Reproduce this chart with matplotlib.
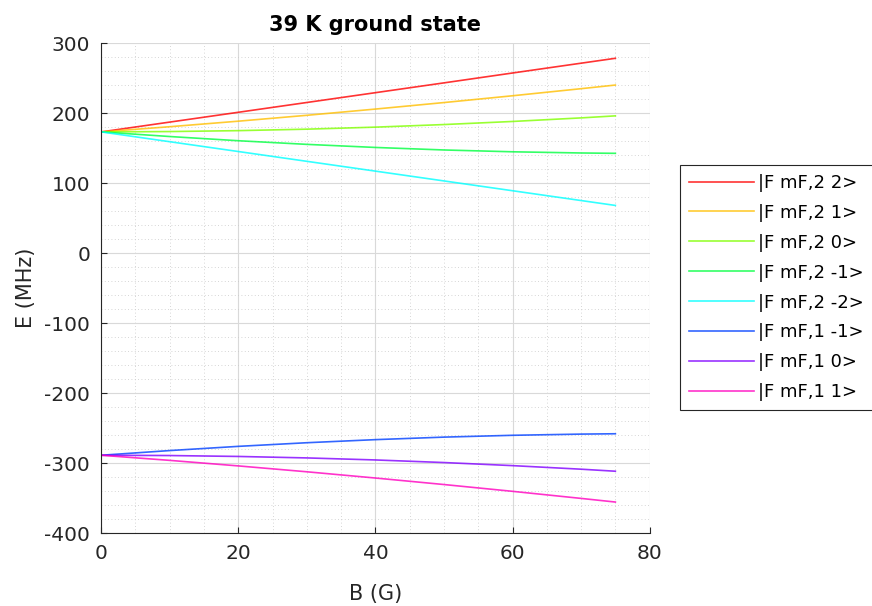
import matplotlib.pyplot as plt
from matplotlib.ticker import MultipleLocator

plt.rcParams['font.family'] = ['DejaVu Sans']
plt.rcParams['axes.unicode_minus'] = False

# field values (G) and energies (MHz)
B = [0, 10, 20, 30, 40, 50, 60, 70, 75]

E_2_2 = [173.1, 187.1, 201.1, 215.1, 229.1, 243.1, 257.2, 271.2, 278.2]
E_2_1 = [173.1, 180.5, 188.4, 196.8, 205.7, 215.0, 224.7, 234.8, 240.0]
E_2_0 = [173.1, 173.6, 174.9, 177.0, 179.9, 183.6, 188.0, 193.1, 196.0]
E_2_m1 = [173.1, 166.5, 160.5, 155.3, 150.9, 147.3, 144.7, 143.0, 142.5]
E_2_m2 = [173.1, 159.1, 145.1, 131.1, 117.1, 103.1, 89.1, 75.1, 68.1]
E_1_m1 = [-288.6, -281.9, -275.9, -270.7, -266.3, -262.7, -260.1, -258.4, -257.9]
E_1_0 = [-288.6, -289.0, -290.3, -292.4, -295.3, -299.0, -303.4, -308.5, -311.4]
E_1_1 = [-288.6, -295.9, -303.8, -312.2, -321.1, -330.4, -340.1, -350.2, -355.4]

series = [E_2_2, E_2_1, E_2_0, E_2_m1, E_2_m2, E_1_m1, E_1_0, E_1_1]
labels = ['|F mF,2 2>', '|F mF,2 1>', '|F mF,2 0>', '|F mF,2 -1>',
          '|F mF,2 -2>', '|F mF,1 -1>', '|F mF,1 0>', '|F mF,1 1>']
colors = [(1, 0, 0), (1, 0.75, 0), (0.5, 1, 0), (0, 1, 0.25),
          (0, 1, 1), (0, 0.25, 1), (0.5, 0, 1), (1, 0, 0.75)]

fig = plt.figure(figsize=(8.72, 6.06), dpi=100)
ax = fig.add_axes([0.116, 0.120, 0.629, 0.809])

for E, lab, c in zip(series, labels, colors):
    ax.plot(B, E, color=c, lw=1.2, alpha=0.8, label=lab)

ax.set_xlim(0, 80)
ax.set_ylim(-400, 300)
ax.xaxis.set_major_locator(MultipleLocator(20))
ax.xaxis.set_minor_locator(MultipleLocator(5))
ax.yaxis.set_major_locator(MultipleLocator(100))
ax.yaxis.set_minor_locator(MultipleLocator(20))

ax.grid(which='major', color='#d9d9d9', lw=0.8)
ax.grid(which='minor', color='#c8c8c8', lw=0.6, ls=(0, (1, 3)))
ax.set_axisbelow(True)

for s in ['top', 'right']:
    ax.spines[s].set_visible(False)
for s in ['left', 'bottom']:
    ax.spines[s].set_color('#262626')
    ax.spines[s].set_linewidth(0.8)

ax.tick_params(which='major', direction='in', length=4, colors='#262626',
               labelsize=14.5, pad=8)
ax.tick_params(which='minor', length=0)

ax.set_xlabel('B (G)', fontsize=15, color='#262626', labelpad=15)
ax.set_ylabel('E (MHz)', fontsize=15, color='#262626', labelpad=6)
ax.set_title('39 K ground state', fontsize=15, fontweight='bold', pad=9)

leg = fig.legend(loc='upper left', bbox_to_anchor=(0.780, 0.728),
                 bbox_transform=fig.transFigure, fontsize=13,
                 fancybox=False, edgecolor='#262626', framealpha=1,
                 handlelength=3.6, labelspacing=0.66, borderpad=0.5,
                 handletextpad=0.2, borderaxespad=0)
leg.get_frame().set_linewidth(0.8)

fig.savefig('out.png', dpi=100)
